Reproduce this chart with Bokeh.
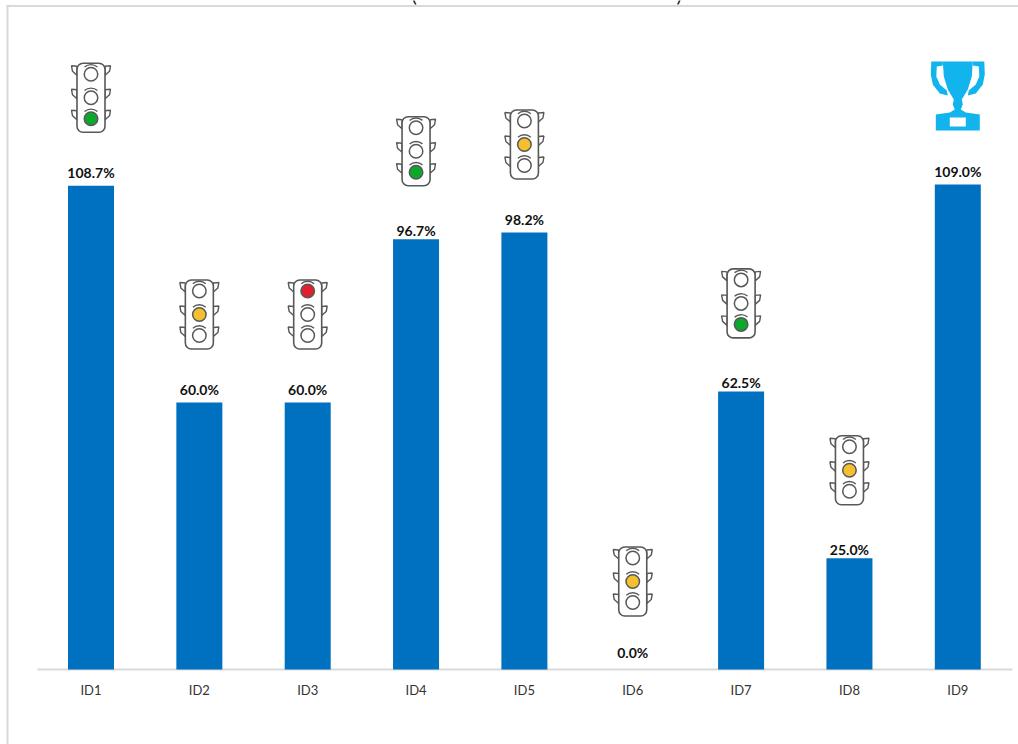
from bokeh.embed import file_html
from bokeh.resources import INLINE
from bokeh.plotting import figure
from bokeh.models import Range1d, FixedTicker

categories = ["ID1", "ID2", "ID3", "ID4", "ID5", "ID6", "ID7", "ID8", "ID9"]
values = [108.7, 60.0, 60.0, 96.7, 98.2, 0.0, 62.5, 25.0, 109.0]
labels = ["108.7%", "60.0%", "60.0%", "96.7%", "98.2%", "0.0%", "62.5%", "25.0%", "109.0%"]
states = ["green", "amber", "red", "green", "amber", "amber", "green", "amber", "trophy"]
label_gaps = [13, 13, 13, 9, 13, 17, 9, 9, 13]

BLUE = "#0070C0"
GREY = "#D9D9D9"
ICON = "#585858"
TROPHY = "#12B4EE"
LIT = {"green": ("#0CA82C", 2), "amber": ("#F5C02F", 1), "red": ("#E0202E", 0)}

W, H = 1018, 744
BASE_PX, FIRST_PX = 669, 90.5
PX_X = 108.35
PX_Y = 4.45
GAP = 88 / PX_Y


def dx(px):
    return px / PX_X


def dy(px):
    return px / PX_Y


def cx(px):
    return (px - FIRST_PX) / PX_X


def cy_(px):
    return (BASE_PX - px) / PX_Y


p = figure(width=W, height=H, output_backend="svg", toolbar_location=None,
           x_range=Range1d(cx(0), cx(W)), y_range=Range1d(cy_(H), cy_(0)),
           min_border_left=0, min_border_right=0, min_border_top=0, min_border_bottom=0,
           background_fill_color="white", border_fill_color="white")
p.outline_line_color = None
p.grid.visible = False
p.yaxis.visible = False
ax = p.xaxis[0]
ax.fixed_location = 0
ax.ticker = FixedTicker(ticks=list(range(len(categories))))
ax.major_label_overrides = {i: c for i, c in enumerate(categories)}
ax.axis_line_color = None
ax.major_tick_line_color = None
ax.minor_tick_line_color = None
ax.major_label_text_font = "Lato"
ax.major_label_text_font_size = "13px"
ax.major_label_text_color = "#333333"
ax.major_label_standoff = 6

xs = list(range(len(categories)))

# clipped remains of the chart title, and the frame of the pasted picture
p.text(x=[cx(411), cx(676)], y=[cy_(5), cy_(5)], text=["(", ")"], text_font={"value": "Lato"},
       text_font_size="20px", text_color="#222222", text_baseline="bottom", text_align="left")
p.segment(x0=[cx(6), cx(7)], y0=[cy_(5.5), cy_(5)], x1=[cx(W), cx(7)], y1=[cy_(5.5), cy_(H)],
          line_color=GREY, line_width=2)
# baseline
p.segment(x0=[cx(37)], y0=[0], x1=[cx(1012)], y1=[0], line_color=GREY, line_width=2)

p.vbar(x=xs, top=values, bottom=0, width=46 / PX_X, fill_color=BLUE, line_color=None)

p.text(x=xs, y=values, text=labels,
       y_offset=[-g for g in label_gaps],
       text_font={"value": "Lato"}, text_font_style="bold", text_font_size="14px",
       text_align="center", text_baseline="middle", text_color="#111111")

flap_x = [14, 19.5, 18.5, 14]
flap_y = [8, 8.5, 3, -1]

for i, (v, s) in enumerate(zip(values, states)):
    cy = v + GAP
    if s == "trophy":
        p.patch([i + dx(d) for d in [-15, -26.5, -27, -25, -18, -10, -11, -18, -21.5, -21, -15]],
                [cy + dy(d) for d in [35, 35, 22, 12, 3, 1, 6, 12, 20, 30, 31]],
                fill_color=TROPHY, line_color=None)
        p.patch([i + dx(d) for d in [15, 26.5, 27, 25, 18, 10, 11, 18, 21.5, 21, 15]],
                [cy + dy(d) for d in [35, 35, 22, 12, 3, 1, 6, 12, 20, 30, 31]],
                fill_color=TROPHY, line_color=None)
        p.patch([i + dx(d) for d in [-15, 15, 14, 10, 4, 5, 3, 8, 22, 22, -22, -22, -8, -3, -5, -4, -10, -14]],
                [cy + dy(d) for d in [35, 35, 20, 7, -3, -8, -13, -16, -18, -34, -34, -18, -16, -13, -8, -3, 7, 20]],
                fill_color=TROPHY, line_color=None)
        p.rect(x=[i], y=[cy + dy(-25.5)], width=16, height=9, width_units="screen", height_units="screen",
               fill_color="white", line_color=None)
        continue
    for off in (23.5, 0, -21):
        p.patch([i + dx(-d) for d in flap_x], [cy + dy(off + d) for d in flap_y],
                fill_color="white", line_color=ICON, line_width=1.4)
        p.patch([i + dx(d) for d in flap_x], [cy + dy(off + d) for d in flap_y],
                fill_color="white", line_color=ICON, line_width=1.4)
    p.rect(x=[i], y=[cy], width=28, height=69, width_units="screen", height_units="screen",
           fill_color="white", line_color=ICON, line_width=1.6, border_radius=6)
    lit_color, lit_index = LIT[s]
    for j, off in enumerate((23.5, 0, -21)):
        p.arc(x=[i], y=[cy + dy(off)], radius=9.7, radius_units="screen",
              start_angle=0.85, end_angle=2.3, line_color=ICON, line_width=1.4)
        p.scatter(x=[i], y=[cy + dy(off)], size=13.5, marker="circle",
                  fill_color=lit_color if j == lit_index else "white",
                  line_color=ICON, line_width=1.5)

open("out.html", "w").write(file_html(p, INLINE))
